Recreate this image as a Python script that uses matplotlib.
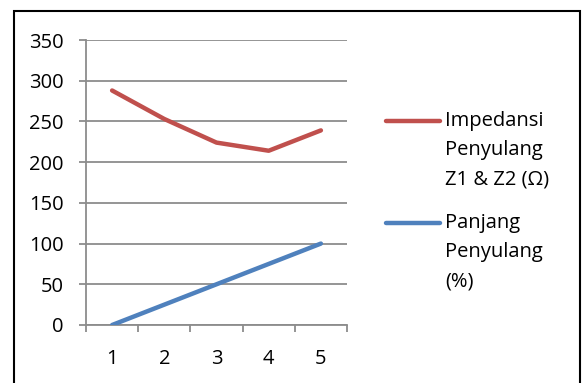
import matplotlib.pyplot as plt
from matplotlib.lines import Line2D
from matplotlib.patches import Rectangle

# data
kategori = [1, 2, 3, 4, 5]
impedansi = [288, 253, 224, 214, 239]
panjang = [0, 25, 50, 75, 100]

WARNA_MERAH = '#C0504D'
WARNA_BIRU = '#4F81BD'
WARNA_GRID = '#8C8C8C'
FS = 14.5

plt.rcParams['font.family'] = ['Open Sans', 'DejaVu Sans']

W, H = 582, 383
fig = plt.figure(figsize=(W / 100, H / 100), dpi=100)
ax = fig.add_axes([86 / W, 1 - 325 / H, (347 - 86) / W, (325 - 40) / H])

ax.plot(kategori, impedansi, color=WARNA_MERAH, lw=3.2, solid_capstyle='round',
        solid_joinstyle='round', zorder=3)
ax.plot(kategori, panjang, color=WARNA_BIRU, lw=3.2, solid_capstyle='round',
        solid_joinstyle='round', zorder=3)

ax.set_xlim(0.5, 5.5)
ax.set_ylim(0, 350)
ax.set_yticks(range(0, 351, 50))
ax.set_xticks(kategori)
ax.set_xticks([0.5, 1.5, 2.5, 3.5, 4.5, 5.5], minor=True)

ax.grid(axis='y', color=WARNA_GRID, lw=1.3)
ax.set_axisbelow(True)
for s in ['top', 'right']:
    ax.spines[s].set_visible(False)
for s in ['left', 'bottom']:
    ax.spines[s].set_color(WARNA_GRID)
    ax.spines[s].set_linewidth(1.3)

ax.tick_params(axis='y', length=5, width=1.3, color=WARNA_GRID, pad=11,
               labelsize=FS)
ax.tick_params(axis='x', which='major', length=0, pad=17, labelsize=FS)
ax.tick_params(axis='x', which='minor', length=5, width=1.3, color=WARNA_GRID)

# legend
def entri(y, warna, baris):
    fig.add_artist(Line2D([386 / W, 440 / W], [1 - y / H, 1 - y / H], color=warna,
                          lw=3.2, solid_capstyle='round'))
    for i, t in enumerate(baris):
        fig.text(445 / W, 1 - (y + i * 29.5) / H, t, fontsize=FS, va='center',
                 ha='left')

entri(121, WARNA_MERAH, ['Impedansi', 'Penyulang', 'Z1 & Z2 (Ω)'])
entri(223, WARNA_BIRU, ['Panjang', 'Penyulang', '(%)'])

# outer frame
fig.add_artist(Rectangle((14 / W, -0.05), (580 - 14) / W, 1 - 11 / H + 0.05,
                         transform=fig.transFigure, fill=False, ec='black',
                         lw=1.5))

fig.savefig('out.png', dpi=100)
